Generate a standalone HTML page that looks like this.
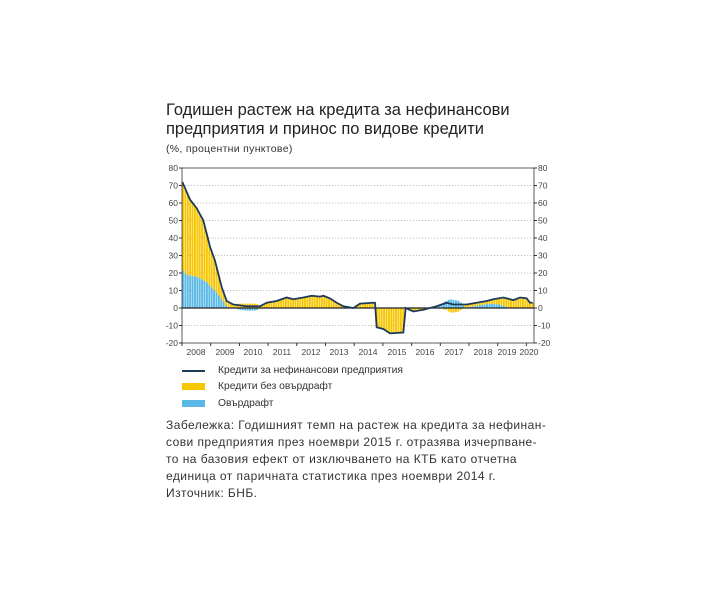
<!DOCTYPE html>
<html><head><meta charset="utf-8"><style>
body{margin:0;background:#fff;width:710px;height:599px;overflow:hidden;font-family:"Liberation Sans",sans-serif;color:#333}
.t{position:absolute;left:166px;font-size:16.5px;color:#222;white-space:nowrap}
.n{position:absolute;left:166px;font-size:12px;letter-spacing:0.45px;color:#333;white-space:nowrap}
.g{position:absolute;left:218px;font-size:10.3px;color:#333;white-space:nowrap}
</style></head><body>
<div class="t" style="top:101px">Годишен растеж на кредита за нефинансови</div>
<div class="t" style="top:120px">предприятия и принос по видове кредити</div>
<div class="n" style="top:143px;font-size:10.5px;letter-spacing:0.3px">(%, процентни пунктове)</div>
<svg id="c" width="710" height="599" style="position:absolute;left:0;top:0"></svg>
<div class="g" style="top:365px">Кредити за нефинансови предприятия</div>
<div class="g" style="top:381px">Кредити без овърдрафт</div>
<div class="g" style="top:398px">Овърдрафт</div>
<div class="n" style="top:418px">Забележка: Годишният темп на растеж на кредита за нефинан-</div>
<div class="n" style="top:435px">сови предприятия през ноември 2015 г. отразява изчерпване-</div>
<div class="n" style="top:452px">то на базовия ефект от изключването на КТБ като отчетна</div>
<div class="n" style="top:469px">единица от паричната статистика през ноември 2014 г.</div>
<div class="n" style="top:486px">Източник: БНБ.</div>
<script>
const L=182,R=534,T=168,B=343;
const y=v=>308-v*1.75;
const zx=z=>160+z/3;
const tot=[[67,72],[90,62],[110,57],[130,50],[150,35],[165,27],[185,12],[200,4],[220,2],[260,1],[300,1],[320,3],[350,4],[380,6],[400,5],[430,6],[455,7],[480,6.5],[490,7],[510,5.5],[530,3],[550,1],[580,0],[600,2.5],[640,3],[645,3],[650,-11],[670,-12],[690,-14.5],[730,-14],[737,0],[760,-2],[790,-1],[830,1],[860,3],[880,2],[920,2],[950,3],[980,4],[1000,5],[1030,6],[1060,4.5],[1080,6],[1100,5.5],[1110,3],[1118,3]].map(p=>[zx(p[0]),p[1]]);
const blu=[[67,22],[80,19],[110,18],[140,15],[170,9],[190,4],[200,1],[220,0],[240,-1],[260,-1.5],[290,-1.5],[300,0],[830,0],[850,3],[870,5],[900,4],[915,0],[940,1],[990,2.5],[1020,2],[1050,0],[1118,0]].map(p=>[zx(p[0]),p[1]]);
function f(a,x){for(let i=1;i<a.length;i++)if(x<=a[i][0]){const[p,q]=[a[i-1],a[i]];return p[1]+(q[1]-p[1])*(x-p[0])/(q[0]-p[0]);}return a[a.length-1][1];}
let s='';
for(let v=-20;v<=80;v+=10){
 if(v>-20&&v<80&&v!=0)s+=`<line x1="${L}" x2="${R}" y1="${y(v)}" y2="${y(v)}" stroke="#aaa" stroke-width="0.7" stroke-dasharray="1.2 1.8"/>`;
 s+=`<text x="${L-4}" y="${y(v)+3}" font-size="8.5" text-anchor="end" fill="#444">${v}</text><text x="${R+4}" y="${y(v)+3}" font-size="8.5" fill="#444">${v}</text>`;
 s+=`<line x1="${L-3}" x2="${L}" y1="${y(v)}" y2="${y(v)}" stroke="#333"/><line x1="${R}" x2="${R+3}" y1="${y(v)}" y2="${y(v)}" stroke="#333"/>`;
}
const mw=(R-L)/147;
for(let m=0;m<147;m++){
 const x=L+m*mw, c=x+mw/2;
 const t=f(tot,c), b=f(blu,c), yl=t-b;
 let pos=0,neg=0;
 const bar=(v,col)=>{if(v>=0){s+=`<rect x="${x}" y="${y(pos+v)}" width="${mw*0.8}" height="${v*1.75}" fill="${col}"/>`;pos+=v;}else{s+=`<rect x="${x}" y="${y(neg)}" width="${mw*0.8}" height="${-v*1.75}" fill="${col}"/>`;neg+=v;}};
 bar(b,"#5ab8e6");bar(yl,"#f7c600");
}
s+=`<line x1="${L}" x2="${R}" y1="${y(0)}" y2="${y(0)}" stroke="#222" stroke-width="1.2"/>`;
s+=`<polyline fill="none" stroke="#1e3a5a" stroke-width="1.8" points="${tot.map(p=>p[0]+','+y(p[1])).join(' ')}"/>`;
s+=`<rect x="${L}" y="${T}" width="${R-L}" height="${B-T}" fill="none" stroke="#333" stroke-width="0.8"/>`;
const yr=28.7;
for(let i=0;i<=12;i++){const x=L+i*yr;s+=`<line x1="${x}" x2="${x}" y1="${B}" y2="${B+3}" stroke="#333"/>`;}
const lx=[196,225,253,282,311,339,368,397,425,454,483,507,529];
lx.forEach((x,i)=>s+=`<text x="${x}" y="${B+12}" font-size="8.5" text-anchor="middle" fill="#444">${2008+i}</text>`);
s+=`<line x1="182" x2="205" y1="371" y2="371" stroke="#1e3a5a" stroke-width="2"/><rect x="182" y="383" width="23" height="7" fill="#f7c600"/><rect x="182" y="400" width="23" height="7" fill="#5ab8e6"/>`;
document.getElementById('c').innerHTML=s;
</script>
</body></html>
